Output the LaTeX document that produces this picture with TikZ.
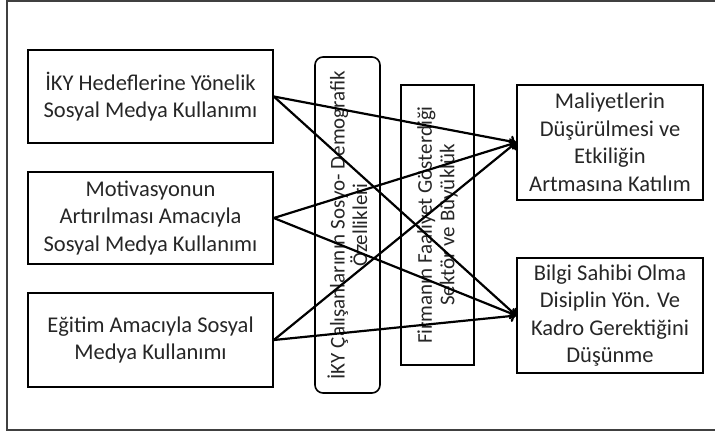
\documentclass[tikz,border=0pt]{standalone}
\usepackage{fontspec}
\setmainfont{Carlito}
\usetikzlibrary{arrows.meta}

\begin{document}
\begin{tikzpicture}[x=1pt,y=-1pt,
    box/.style={draw,line width=1.6pt,align=center,inner sep=0pt,text=black!85,
      font=\fontsize{22.5}{27.5}\selectfont},
    vbox/.style={draw,line width=1.6pt,align=center,inner sep=0pt,rotate=90,
      text=black!85,font=\fontsize{21}{22.5}\selectfont},
    link/.style={line width=2.2pt,-{To[length=6pt,width=12pt]}}]
    \useasboundingbox (0,0) rectangle (715,432);
    % frame, cut off at the right edge
    \draw[line width=1.8pt,black!75] (716,1) -| (7,430) -- (716,430);

    % goals on the left
    \node[box,minimum width=245,minimum height=93] (iky) at (150.5,96.5)
      {İKY Hedeflerine Yönelik\\Sosyal Medya Kullanımı};
    \node[box,minimum width=245,minimum height=92] (motiv) at (150.5,218)
      {Motivasyonun\\Artırılması Amacıyla\\Sosyal Medya Kullanımı};
    \node[box,minimum width=245,minimum height=94] (egitim) at (150.5,340)
      {Eğitim Amacıyla Sosyal\\Medya Kullanımı};

    % control variables
    \node[vbox,rounded corners=8pt,minimum width=336,minimum height=65] (demo) at (347.5,225)
      {İKY Çalışanlarının Sosyo- Demografik\\Özellikleri};
    \node[vbox,minimum width=280,minimum height=73] (firma) at (437.5,225)
      {Firmanın Faaliyet Gösterdiği\\Sektör ve Büyüklük};

    % outcomes on the right
    \node[box,minimum width=186,minimum height=115] (maliyet) at (610,142.5)
      {Maliyetlerin\\Düşürülmesi ve\\Etkiliğin\\Artmasına Katılım};
    \node[box,minimum width=186,minimum height=115] (bilgi) at (610,315.5)
      {Bilgi Sahibi Olma\\Disiplin Yön. Ve\\Kadro Gerektiğini\\Düşünme};

    \foreach \src in {iky,motiv,egitim} \foreach \dst in {maliyet,bilgi} {
      \draw[link] (\src.east) -- (\dst.west);
    }
\end{tikzpicture}
\end{document}
